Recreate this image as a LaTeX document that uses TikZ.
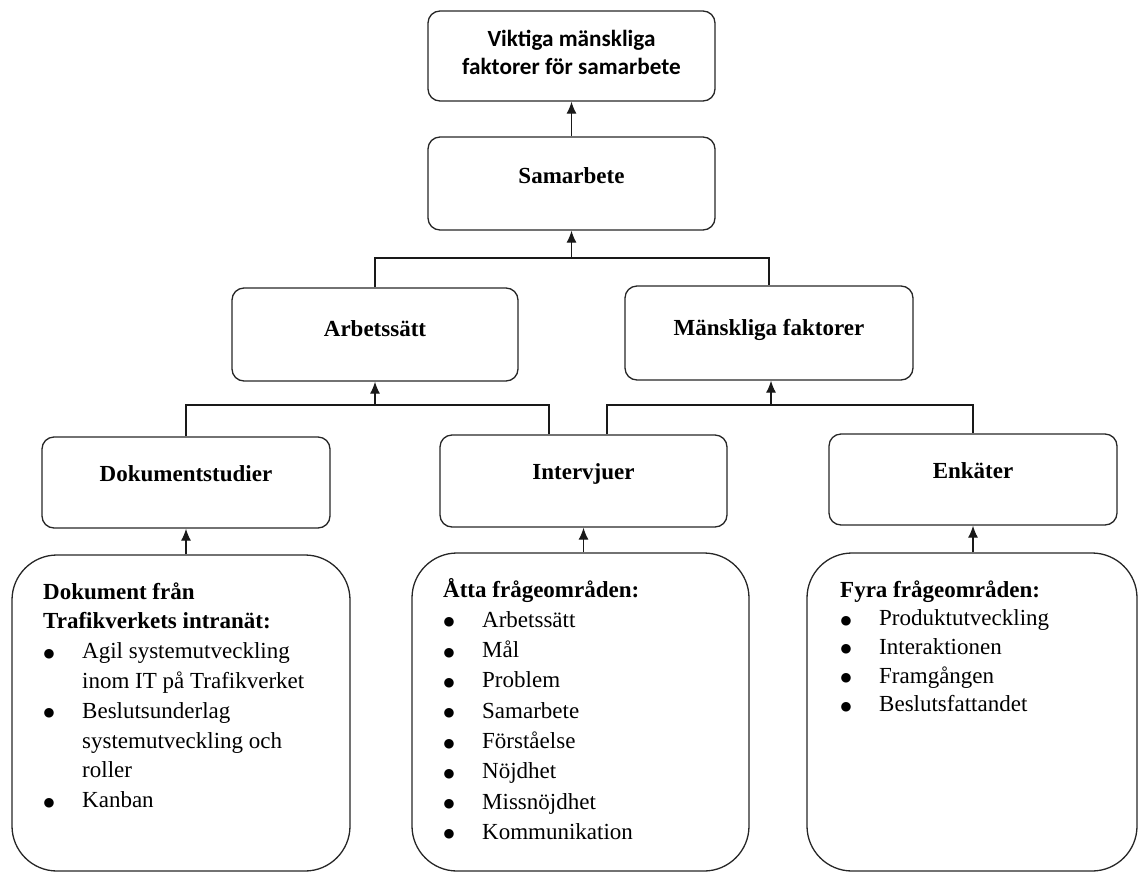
\documentclass[tikz,border=0pt]{standalone}
\usepackage{fontspec}
\setmainfont{Liberation Serif}
\newfontfamily\calib{Carlito}
\newfontfamily\dejavu{DejaVu Sans}
\usetikzlibrary{arrows.meta}
\begin{document}
\begin{tikzpicture}[x=1pt,y=-1pt,
  box/.style={draw=black!85,line width=1.3pt,rounded corners=12pt,inner sep=0pt},
  lbl/.style={inner sep=0pt,anchor=base,font=\fontsize{23}{28}\selectfont\bfseries},
  bigbox/.style={draw=black!85,line width=1.3pt,rounded corners=45pt,inner sep=0pt},
  list/.style={anchor=base west,inner sep=0pt,font=\fontsize{23}{29.5}\selectfont},
  conn/.style={line width=1.3pt,draw=black!90},
  arr/.style={conn,-{Latex[length=12pt,width=10pt]}}]
\useasboundingbox (0,0) rectangle (1140,873);
% boxes
\node[box,minimum width=287pt,minimum height=90pt] (top) at (571.5,56) {};
\node[box,minimum width=287pt,minimum height=93pt] (sam) at (571.5,183.5) {};
\node[box,minimum width=286pt,minimum height=93pt] (arb) at (375,334.5) {};
\node[box,minimum width=288pt,minimum height=94pt] (man) at (769,333) {};
\node[box,minimum width=288pt,minimum height=91pt] (dok) at (186,482.5) {};
\node[box,minimum width=287pt,minimum height=92pt] (int) at (583.5,481) {};
\node[box,minimum width=288pt,minimum height=91pt] (enk) at (973,479.5) {};
% labels
\node[inner sep=0pt,align=center,font=\calib\fontsize{23.2}{28}\selectfont\bfseries] (topt) at (571.5,52) {Viktiga mänskliga\\faktorer för samarbete};
\node[lbl] (samt) at (571.5,183) {Samarbete};
\node[lbl] (arbt) at (375,336) {Arbetssätt};
\node[lbl] (mant) at (769,335) {Mänskliga faktorer};
\node[lbl] (dokt) at (186,481) {Dokumentstudier};
\node[lbl] (intt) at (583.5,479.5) {Intervjuer};
\node[lbl] (enkt) at (973,478) {Enkäter};
% bottom boxes
\node[bigbox,minimum width=338pt,minimum height=316pt] (dokb) at (181,713) {};
\node[bigbox,minimum width=337pt,minimum height=318pt] (intb) at (580.5,712) {};
\node[bigbox,minimum width=330pt,minimum height=318pt] (enkb) at (972,712) {};
\newcommand{\itm}{\makebox[39pt][l]{\hspace{0.5pt}\raisebox{1.5pt}{\dejavu\fontsize{12.5}{13}\selectfont ●}}}
\node[list] (dokl) at (43,599) {\parbox[t]{300pt}{\raggedright\fontsize{23}{29.8}\selectfont
  \textbf{Dokument från}\\
  \textbf{Trafikverkets intranät:}\\
  \itm Agil systemutveckling\\
  \hspace*{39pt}inom IT på Trafikverket\\
  \itm Beslutsunderlag\\
  \hspace*{39pt}systemutveckling och\\
  \hspace*{39pt}roller\\
  \itm Kanban}};
\node[list] (intl) at (443,597) {\parbox[t]{300pt}{\raggedright\fontsize{23}{30.3}\selectfont
  \textbf{Åtta frågeområden:}\\
  \itm Arbetssätt\\
  \itm Mål\\
  \itm Problem\\
  \itm Samarbete\\
  \itm Förståelse\\
  \itm Nöjdhet\\
  \itm Missnöjdhet\\
  \itm Kommunikation}};
\node[list] (enkl) at (840,597) {\parbox[t]{290pt}{\raggedright\fontsize{23}{28.7}\selectfont
  \textbf{Fyra frågeområden:}\\
  \itm Produktutveckling\\
  \itm Interaktionen\\
  \itm Framgången\\
  \itm Beslutsfattandet}};
% junction coordinates
\coordinate (j0) at (571.5,258);
\coordinate (j1) at (375,405);
\coordinate (i1) at (549,405);
\coordinate (i2) at (607,405);
\coordinate (j2) at (771,405);
% connectors
\draw[arr] (sam.north) -- (top.south);
\draw[conn] (arb.north) |- (j0) -| (man.north);
\draw[arr] (j0) -- (sam.south);
\draw[conn] (dok.north) |- (i1) -- (i1 |- int.north);
\draw[arr] (j1) -- (arb.south);
\draw[conn] (i2 |- int.north) -- (i2) -| (enk.north);
\draw[arr] (j2) -- (j2 |- man.south);
\draw[arr] (dokb.north -| dok.south) -- (dok.south);
\draw[arr] (intb.north -| int.south) -- (int.south);
\draw[arr] (enkb.north -| enk.south) -- (enk.south);
\end{tikzpicture}
\end{document}
